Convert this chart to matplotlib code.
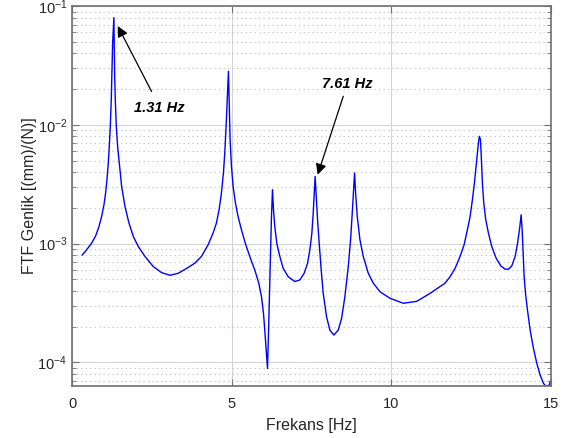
import matplotlib.pyplot as plt
from matplotlib.ticker import LogLocator, NullFormatter

plt.rcParams['font.family'] = ['Liberation Sans', 'DejaVu Sans']
plt.rcParams['mathtext.fontset'] = 'custom'
plt.rcParams['mathtext.rm'] = 'Liberation Sans'

# FRF magnitude [(mm)/(N)] against frequency [Hz]
freq = [0.319, 0.455, 0.611, 0.737, 0.841, 0.925, 0.998, 1.050, 1.092, 1.134, 1.165,
        1.197, 1.228, 1.249, 1.270, 1.31, 1.332, 1.353, 1.385, 1.426, 1.479, 1.552,
        1.656, 1.782, 1.917, 2.074, 2.283, 2.544, 2.806, 3.067, 3.328, 3.589, 3.840,
        4.049, 4.258, 4.415, 4.519, 4.603, 4.676, 4.739, 4.781, 4.822, 4.854, 4.875,
        4.896, 4.916, 4.948, 4.990, 5.042, 5.115, 5.198, 5.303, 5.428, 5.564, 5.721,
        5.846, 5.930, 5.993, 6.034, 6.076, 6.118, 6.150, 6.181, 6.212, 6.243, 6.275,
        6.306, 6.348, 6.411, 6.505, 6.609, 6.766, 6.975, 7.132, 7.267, 7.372, 7.445,
        7.508, 7.550, 7.581, 7.61, 7.644, 7.686, 7.738, 7.800, 7.863, 7.967, 8.072,
        8.197, 8.333, 8.438, 8.542, 8.647, 8.720, 8.772, 8.814, 8.845, 8.877, 8.929,
        9.013, 9.117, 9.274, 9.431, 9.639, 9.953, 10.37, 10.79, 11.21, 11.55, 11.677,
        11.834, 11.991, 12.147, 12.273, 12.377, 12.461, 12.534, 12.597, 12.649, 12.691,
        12.722, 12.753, 12.785, 12.816, 12.847, 12.889, 12.952, 13.035, 13.140, 13.276,
        13.422, 13.558, 13.663, 13.767, 13.871, 13.945, 14.007, 14.06, 14.091, 14.122,
        14.154, 14.196, 14.258, 14.342, 14.446, 14.551, 14.655, 14.760, 14.843, 14.927,
        15.0]
amp = [8.03e-4, 8.87e-4, 1.01e-3, 1.16e-3, 1.39e-3, 1.69e-3, 2.12e-3, 2.67e-3, 3.45e-3,
       4.77e-3, 6.6e-3, 9.7e-3, 1.64e-2, 2.75e-2, 4.92e-2, 8.0e-2, 2.75e-2, 1.64e-2,
       9.7e-3, 6.6e-3, 4.77e-3, 3.03e-3, 2.06e-3, 1.49e-3, 1.15e-3, 9.46e-4, 7.8e-4,
       6.41e-4, 5.7e-4, 5.42e-4, 5.64e-4, 6.2e-4, 6.84e-4, 7.8e-4, 9.77e-4, 1.23e-3,
       1.49e-3, 1.93e-3, 2.67e-3, 3.94e-3, 5.81e-3, 9.7e-3, 1.53e-2, 2.12e-2, 2.83e-2,
       1.64e-2, 7.52e-3, 4.48e-3, 3.03e-3, 2.2e-3, 1.69e-3, 1.31e-3, 1.0e-3, 7.8e-4,
       6.0e-4, 4.65e-4, 3.58e-4, 2.59e-4, 1.87e-4, 1.27e-4, 8.9e-5, 1.76e-4, 3.82e-4,
       8.3e-4, 1.69e-3, 2.85e-3, 1.93e-3, 1.39e-3, 1.0e-3, 7.8e-4, 6.2e-4, 5.27e-4,
       4.8e-4, 4.95e-4, 5.64e-4, 6.84e-4, 8.87e-4, 1.23e-3, 1.81e-3, 2.67e-3, 3.68e-3,
       2.5e-3, 1.59e-3, 1.0e-3, 6.0e-4, 3.82e-4, 2.43e-4, 1.87e-4, 1.70e-4, 1.87e-4,
       2.35e-4, 3.58e-4, 6.41e-4, 1.08e-3, 1.81e-3, 2.85e-3, 3.94e-3, 2.67e-3, 1.69e-3,
       1.08e-3, 7.8e-4, 5.64e-4, 4.65e-4, 3.94e-4, 3.47e-4, 3.15e-4, 3.27e-4, 3.82e-4,
       4.4e-4, 4.65e-4, 5.27e-4, 6.2e-4, 7.8e-4, 9.77e-4, 1.31e-3, 1.69e-3, 2.34e-3,
       3.24e-3, 4.48e-3, 5.81e-3, 7.05e-3, 8.01e-3, 7.52e-3, 5.1e-3, 3.24e-3, 2.2e-3,
       1.59e-3, 1.23e-3, 9.46e-4, 7.55e-4, 6.5e-4, 6.1e-4, 6.1e-4, 6.5e-4, 7.8e-4,
       1.0e-3, 1.31e-3, 1.75e-3, 1.31e-3, 8.3e-4, 5.27e-4, 3.82e-4, 2.76e-4, 1.87e-4,
       1.31e-4, 9.8e-5, 7.82e-5, 6.65e-5, 6.3e-5, 6.4e-5, 7.1e-5]

fig = plt.figure(figsize=(5.63, 4.38), dpi=100)
ax = fig.add_axes([0.128, 0.119, 0.851, 0.867])

ax.semilogy(freq, amp, color='blue', linewidth=1.0)
ax.set_xlim(0, 15)
ax.set_ylim(6.35e-5, 1e-1)
ax.set_xticks([0, 5, 10, 15])
ax.yaxis.set_major_locator(LogLocator(base=10, numticks=10))
ax.yaxis.set_minor_locator(LogLocator(base=10, subs=range(2, 10), numticks=20))
ax.yaxis.set_minor_formatter(NullFormatter())

ax.grid(True, which='major', color='#d4d4d4', linestyle='-', linewidth=0.8)
ax.grid(True, which='minor', axis='y', color='#bdbdbd', linestyle=(0, (1, 3)), linewidth=0.8)
ax.set_axisbelow(True)

for s in ax.spines.values():
    s.set_color('#707070')
    s.set_linewidth(1.2)
ax.tick_params(which='both', direction='in', top=True, right=True, colors='#707070',
               labelcolor='#262626', labelsize=10.5)
ax.tick_params(which='major', length=5)
ax.tick_params(which='minor', length=3)
ax.tick_params(axis='x', pad=8)

ax.set_xlabel('Frekans [Hz]', fontsize=11.5, color='#262626', labelpad=5)
ax.set_ylabel('FTF Genlik [(mm)/(N)]', fontsize=11.5, color='#262626', labelpad=0)

arrow = dict(arrowstyle='-|>', color='black', lw=0.9, mutation_scale=16, shrinkA=0, shrinkB=0)
ax.annotate('', xy=(1.43, 0.068), xytext=(2.49, 0.0191), arrowprops=arrow)
ax.text(2.73, 0.014, '1.31 Hz', ha='center', va='center', fontsize=10.5,
        fontweight='bold', fontstyle='italic')
ax.annotate('', xy=(7.69, 3.81e-3), xytext=(8.49, 0.0174), arrowprops=arrow)
ax.text(8.63, 0.0223, '7.61 Hz', ha='center', va='center', fontsize=10.5,
        fontweight='bold', fontstyle='italic')

fig.savefig('out.png', dpi=100)
